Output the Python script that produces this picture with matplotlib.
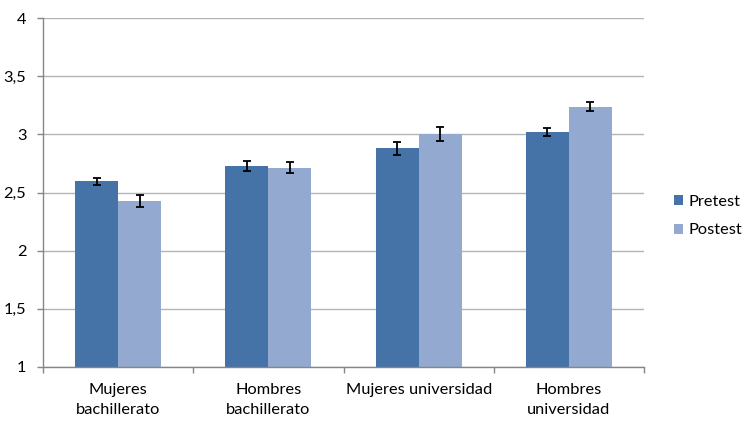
import numpy as np
import matplotlib
matplotlib.use('Agg')
from matplotlib import pyplot as plt
from matplotlib.ticker import FixedLocator, FuncFormatter

plt.rcParams['font.family'] = ['Lato', 'DejaVu Sans']

groups = ['Mujeres\nbachillerato', 'Hombres\nbachillerato', 'Mujeres universidad', 'Hombres\nuniversidad']
pretest = [2.595, 2.73, 2.88, 3.02]
postest = [2.425, 2.715, 3.005, 3.24]
pretest_err = [0.03, 0.045, 0.055, 0.035]
postest_err = [0.05, 0.045, 0.06, 0.04]
series_names = ['Pretest', 'Postest']

c_pre = '#4572A7'
c_post = '#94A9CF'
axis_gray = '#868686'
grid_gray = '#B4B4B4'
fs = 11.8

fig = plt.figure(figsize=(7.52, 4.22), dpi=100)
ax = fig.add_axes([43 / 752, 1 - 366.7 / 422, 601 / 752, 348.4 / 422])

x = np.arange(len(groups))
w = 0.287
err_kw = dict(ecolor='black', elinewidth=1.3, capsize=3, capthick=1.3)
ax.bar(x - w / 2, np.array(pretest) - 1, w, bottom=1, color=c_pre, yerr=pretest_err,
       error_kw=err_kw, label=series_names[0], zorder=2)
ax.bar(x + w / 2, np.array(postest) - 1, w, bottom=1, color=c_post, yerr=postest_err,
       error_kw=err_kw, label=series_names[1], zorder=2)

ax.set_xlim(-0.5, len(groups) - 0.5)
ax.set_ylim(1, 4)
ax.set_yticks(np.arange(1, 4.01, 0.5))
ax.yaxis.set_major_formatter(FuncFormatter(lambda v, p: ('%g' % v).replace('.', ',')))
ax.yaxis.grid(True, color=grid_gray, linewidth=1, zorder=0)
ax.set_axisbelow(True)

ax.set_xticks(x)
ax.set_xticklabels(groups, fontsize=fs, linespacing=1.5)
ax.xaxis.set_minor_locator(FixedLocator(np.arange(-0.5, len(groups), 1.0)))
ax.tick_params(axis='x', which='major', length=0, pad=12)
ax.tick_params(axis='x', which='minor', length=4, color=axis_gray, width=1)
ax.tick_params(axis='y', length=4.5, color=axis_gray, width=1, pad=7.5, labelsize=fs)

for s in ['top', 'right']:
    ax.spines[s].set_visible(False)
for s in ['left', 'bottom']:
    ax.spines[s].set_color(axis_gray)
    ax.spines[s].set_linewidth(1)
    ax.spines[s].set_zorder(3)

ax.legend(loc='center left', bbox_to_anchor=(674 / 752, 1 - 216 / 422),
          bbox_transform=fig.transFigure, frameon=False, fontsize=fs,
          handlelength=0.55, handleheight=0.55, handletextpad=0.35,
          labelspacing=0.9, borderpad=0, borderaxespad=0)

fig.savefig('out.png', dpi=100)
